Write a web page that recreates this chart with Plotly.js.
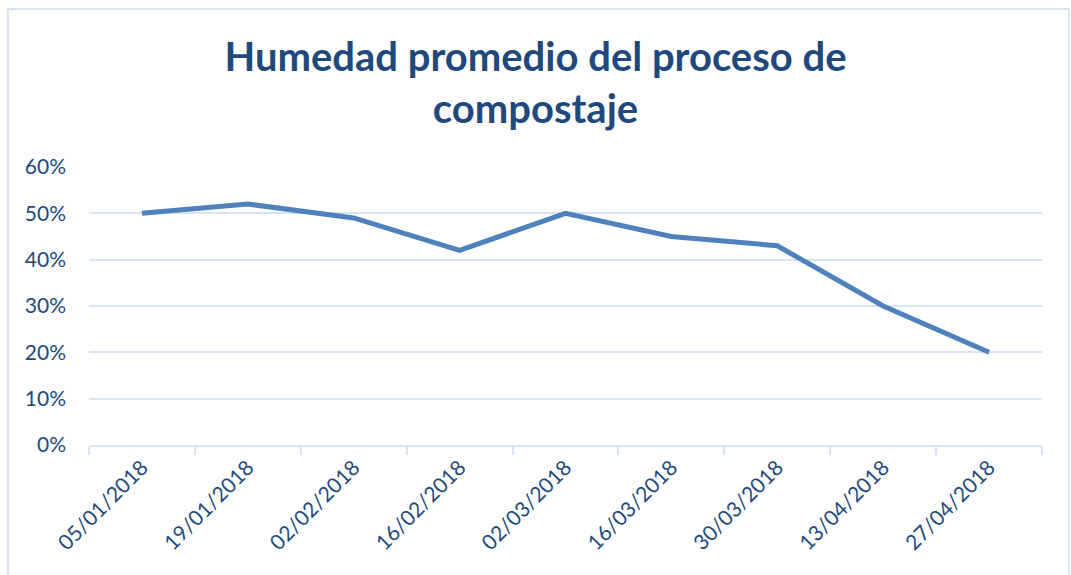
<!DOCTYPE html>
<html>
<head>
<meta charset="utf-8">
<script src="https://cdn.plot.ly/plotly-3.0.1.min.js"></script>
<style>html,body{margin:0;padding:0;background:#fff;}#chart{width:1071px;height:575px;}</style>
</head>
<body>
<div id="chart"></div>
<script>
const categories = ["05/01/2018","19/01/2018","02/02/2018","16/02/2018","02/03/2018","16/03/2018","30/03/2018","13/04/2018","27/04/2018"];
const humedad = [0.50, 0.52, 0.49, 0.42, 0.50, 0.45, 0.43, 0.30, 0.20];
const yTickValues = [0, 0.1, 0.2, 0.3, 0.4, 0.5, 0.6];
const chartTitle = "Humedad promedio del proceso de<br>compostaje";

const textColor = "#1F497D";
const gridColor = "#D9E3F1";
const L = 89, R = 29, T = 167, B = 130, W = 1071, H = 575;
const pw = W - L - R, ph = H - T - B;
function px(x){ return (x - L) / pw; }
function py(y){ return (H - B - y) / ph; }

Plotly.newPlot("chart", [{
  x: categories,
  y: humedad,
  type: "scatter",
  mode: "lines",
  line: {color: "#4F81BD", width: 5},
  hoverinfo: "x+y"
}], {
  width: W, height: H,
  margin: {l: L, r: R, t: T, b: B, pad: 0},
  paper_bgcolor: "#fff",
  plot_bgcolor: "#fff",
  showlegend: false,
  title: {
    text: chartTitle,
    font: {family: "Lato, 'Open Sans', sans-serif", size: 40, color: textColor, weight: "bold"},
    x: 0.5, xanchor: "center",
    y: 1 - 71 / H, yanchor: "top"
  },
  xaxis: {
    type: "category",
    tickson: "boundaries",
    ticks: "outside", ticklen: 8, tickcolor: gridColor, tickwidth: 2,
    showline: true, linecolor: gridColor, linewidth: 2,
    showgrid: false,
    tickangle: -45,
    tickfont: {family: "Lato, 'Open Sans', sans-serif", size: 21, color: textColor},
    range: [-0.5, categories.length - 0.5],
    fixedrange: true
  },
  yaxis: {
    range: [0, 0.6],
    tickvals: yTickValues,
    tickformat: ".0%",
    showgrid: true, gridcolor: gridColor, gridwidth: 2,
    zeroline: false, showline: false,
    ticks: "", ticklabelstandoff: 22,
    tickfont: {family: "Lato, 'Open Sans', sans-serif", size: 21, color: textColor},
    fixedrange: true
  },
  shapes: [{
    type: "rect", xref: "paper", yref: "paper",
    x0: px(8), x1: px(1069), y0: py(590), y1: py(9),
    line: {color: gridColor, width: 2}, fillcolor: "rgba(0,0,0,0)", layer: "below"
  }]
}, {displayModeBar: false, staticPlot: true});
</script>
</body>
</html>
